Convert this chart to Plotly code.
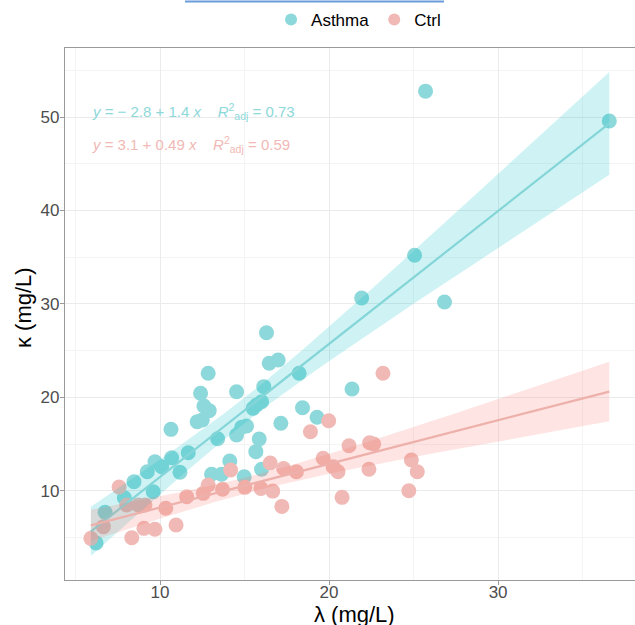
import numpy as np
import plotly.graph_objects as go

# ---- data ----
asthma_lambda = [36.58, 25.71, 25.06, 26.83, 21.93, 21.36, 16.30, 16.46, 16.99, 12.85,
                 18.23, 12.40, 14.53, 16.14, 12.60, 12.91, 15.51, 16.01, 15.71, 18.43,
                 19.29, 10.65, 12.20, 12.50, 17.15, 13.41, 14.53, 14.83, 15.12, 15.87,
                 15.67, 11.67, 10.69, 9.70, 10.10, 11.18, 9.25, 14.13, 16.01, 13.05,
                 13.64, 14.98, 8.46, 9.60, 7.89, 6.75, 6.22]
asthma_kappa = [49.58, 52.78, 35.21, 30.20, 30.63, 20.89, 26.92, 23.64, 23.99, 22.57,
                22.57, 20.43, 20.60, 21.14, 19.07, 18.57, 18.82, 19.53, 19.18, 18.89,
                17.86, 16.57, 17.39, 17.57, 17.22, 15.57, 15.96, 16.79, 16.93, 15.54,
                14.18, 14.07, 13.53, 13.10, 12.57, 11.97, 12.03, 13.18, 12.29, 11.76,
                11.76, 11.50, 10.96, 9.89, 9.25, 7.69, 4.40]
ctrl_lambda = [23.19, 19.98, 18.90, 21.18, 22.40, 22.64, 19.65, 24.87, 25.22, 22.36,
               20.24, 20.53, 24.72, 20.77, 16.52, 17.31, 18.07, 15.97, 16.67, 17.21,
               14.18, 15.02, 13.70, 12.85, 12.56, 11.58, 10.34, 9.11, 8.72, 8.03,
               7.58, 10.95, 9.70, 9.05, 8.33, 6.65, 5.91]
ctrl_kappa = [22.57, 17.49, 16.32, 14.82, 15.14, 15.00, 13.47, 13.29, 12.03, 12.29,
              12.57, 12.03, 10.00, 9.29, 12.96, 12.38, 12.03, 10.25, 9.96, 8.32,
              12.22, 10.36, 10.15, 10.61, 9.72, 9.36, 8.12, 8.47, 8.47, 8.47,
              10.40, 6.33, 5.87, 5.97, 4.97, 6.15, 4.90]
groups = ["Asthma", "Ctrl"]
eq_labels = ["<i>y</i> = − 2.8 + 1.4 <i>x</i>    <i>R</i><sup>2</sup><sub>adj</sub> = 0.73",
             "<i>y</i> = 3.1 + 0.49 <i>x</i>    <i>R</i><sup>2</sup><sub>adj</sub> = 0.59"]
x_title = "λ (mg/L)"
y_title = "κ (mg/L)"
x_ticks = [10, 20, 30]
y_ticks = [10, 20, 30, 40, 50]

point_colors = ["#8DD8DA", "#F1B9B5"]
line_colors = ["#84D5D8", "#EEB0AB"]
ribbon_colors = ["rgba(0,191,196,0.19)", "rgba(248,118,109,0.20)"]


def t975(df):
    z = 1.959964
    return z + (z**3 + z) / (4 * df) + (5 * z**5 + 16 * z**3 + 3 * z) / (96 * df**2)


def lm_band(x, y, grid):
    x = np.asarray(x); y = np.asarray(y)
    n = len(x)
    b1, b0 = np.polyfit(x, y, 1)
    resid = y - (b0 + b1 * x)
    s = np.sqrt(np.sum(resid**2) / (n - 2))
    sxx = np.sum((x - x.mean())**2)
    fit = b0 + b1 * grid
    se = s * np.sqrt(1 / n + (grid - x.mean())**2 / sxx)
    t = t975(n - 2)
    return fit, fit - t * se, fit + t * se


all_x = asthma_lambda + ctrl_lambda
grid = np.linspace(min(all_x), max(all_x), 80)

fig = go.Figure()
data = [(asthma_lambda, asthma_kappa), (ctrl_lambda, ctrl_kappa)]

for i, (xs, ys) in enumerate(data):
    fig.add_trace(go.Scatter(x=xs, y=ys, mode="markers", name=groups[i],
                             marker=dict(size=15, color=point_colors[i], line=dict(width=0)),
                             showlegend=True))

for i, (xs, ys) in enumerate(data):
    fit, lo, hi = lm_band(xs, ys, grid)
    fig.add_trace(go.Scatter(x=np.concatenate([grid, grid[::-1]]),
                             y=np.concatenate([hi, lo[::-1]]),
                             fill="toself", fillcolor=ribbon_colors[i],
                             line=dict(width=0), mode="lines", hoverinfo="skip",
                             showlegend=False))
    fig.add_trace(go.Scatter(x=grid, y=fit, mode="lines",
                             line=dict(color=line_colors[i], width=2.2),
                             showlegend=False))

for i, txt in enumerate(eq_labels):
    fig.add_annotation(x=0.044, xref="paper", y=[50.6, 47.1][i], yref="y",
                       text=txt, showarrow=False, xanchor="left", yanchor="middle",
                       font=dict(size=15, color=point_colors[i], family="Liberation Sans, Arial"))

# axis titles as annotations for precise placement
fig.add_annotation(x=(354 - 65) / 570, xref="paper", y=-(600 - 580) / 532, yref="paper",
                   text=x_title, showarrow=False, xanchor="center", yanchor="top",
                   font=dict(size=22, color="black", family="Liberation Sans, Arial"))
fig.add_annotation(x=(23 - 65) / 570, xref="paper", y=(580 - 308) / 532, yref="paper",
                   text=y_title, showarrow=False, textangle=-90, xanchor="center", yanchor="middle",
                   font=dict(size=22, color="black", family="Liberation Sans, Arial"))

fig.add_shape(type="line", xref="paper", yref="paper", x0=(185 - 65) / 570, x1=(444 - 65) / 570,
              y0=1 + 46.5 / 532, y1=1 + 46.5 / 532, line=dict(color="#6A9BDB", width=2))

axis_common = dict(showline=True, linecolor="#9A9A9A", linewidth=1.2, mirror=True,
                   ticks="outside", ticklen=4, tickcolor="#9A9A9A",
                   showgrid=True, gridcolor="#EBEBEB", gridwidth=1,
                   zeroline=False, automargin=False,
                   tickfont=dict(size=17, color="#4D4D4D", family="Liberation Sans, Arial"))

fig.update_layout(
    width=635, height=625,
    margin=dict(l=65, r=0, t=48, b=45, autoexpand=False),
    plot_bgcolor="white", paper_bgcolor="white",
    font=dict(family="Liberation Sans, Arial"),
    legend=dict(orientation="h", x=0.515, xanchor="center", y=1 + 28 / 532, yanchor="middle",
                font=dict(size=17, color="black"), itemsizing="constant",
                bgcolor="rgba(0,0,0,0)"),
    xaxis=dict(range=[4.38, 38.1], tickvals=x_ticks, ticklabelstandoff=-8,
               minor=dict(tickvals=[5, 15, 25, 35], showgrid=True, gridcolor="#F4F4F4", ticks=""),
               **axis_common),
    yaxis=dict(range=[0.44, 57.4], tickvals=y_ticks, ticklabelstandoff=-3,
               minor=dict(tickvals=[5, 15, 25, 35, 45, 55], showgrid=True, gridcolor="#F4F4F4", ticks=""),
               **axis_common),
)

fig.write_html("out.html", config={"displayModeBar": False},
               post_script="document.body.style.margin='0';document.body.style.overflow='hidden';")
